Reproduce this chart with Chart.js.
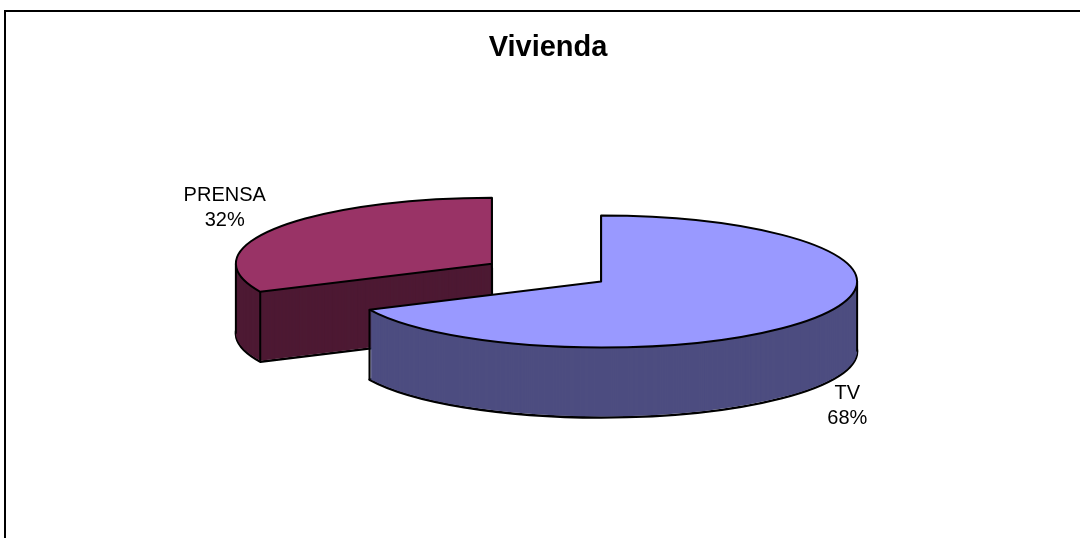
<!DOCTYPE html>
<html>
<head>
<meta charset="utf-8">
<title>Vivienda</title>
<script src="https://cdn.jsdelivr.net/npm/chart.js@4"></script>
<style>
    html, body { margin: 0; padding: 0; background: #fff; }
    #wrap { width: 1080px; height: 538px; }
</style>
</head>
<body>
<div id="wrap"><canvas id="myChart"></canvas></div>
<script>
var categories = ["TV", "PRENSA"];
var seriesValues = [68, 32];
var topColors = ["#9999FF", "#993366"];
var sideColors = ["#4D4D80", "#4D1933"];

// 3d look of the old pie: flattening, wall height, how far slices are pulled apart
var tilt = 66 / 256;
var depth = 70;
var explode = 64.7;
var shiftX = -1.5;
var lineColor = "#000";
var labelFont = "20px 'Liberation Sans'";
var labelLine = 25;
// where each label sits, measured from the rim of its slice
var labelNudge = [[30, 82], [-51, -27]];

function slicePose(arc) {
    var mid = (arc.startAngle + arc.endAngle) / 2;
    return {
        x: arc.x + shiftX + Math.cos(mid) * explode,
        y: arc.y + Math.sin(mid) * explode * tilt,
        rx: arc.outerRadius,
        ry: arc.outerRadius * tilt,
        mid: mid
    };
}

function fillSlice(ctx, arc, pose, color, dy) {
    var flat = Object.create(arc);
    flat.options = Object.assign({}, arc.options, { backgroundColor: color, borderWidth: 0 });
    ctx.save();
    ctx.translate(pose.x, pose.y + dy);
    ctx.scale(1, tilt);
    ctx.translate(-arc.x, -arc.y);
    flat.draw(ctx);
    ctx.restore();
}

function outlineSlice(ctx, arc, pose, dy) {
    ctx.beginPath();
    ctx.moveTo(pose.x, pose.y + dy);
    ctx.ellipse(pose.x, pose.y + dy, pose.rx, pose.ry, 0, arc.startAngle, arc.endAngle);
    ctx.closePath();
    ctx.stroke();
}

function wallLine(ctx, pose, angle) {
    var x = pose.x + Math.cos(angle) * pose.rx;
    var y = pose.y + Math.sin(angle) * pose.ry;
    ctx.beginPath();
    ctx.moveTo(x, y);
    ctx.lineTo(x, y + depth);
    ctx.stroke();
}

function inSlice(arc, angle) {
    var tau = Math.PI * 2;
    var a = angle;
    while (a < arc.startAngle) a += tau;
    return a <= arc.endAngle;
}

var framePlugin = {
    id: "frame",
    beforeDraw: function (chart) {
        var ctx = chart.ctx;
        ctx.save();
        ctx.strokeStyle = lineColor;
        ctx.lineWidth = 2;
        ctx.strokeRect(5, 11, chart.width + 20, chart.height + 20);
        ctx.restore();
    }
};

var pie3dPlugin = {
    id: "pie3d",
    beforeDatasetDraw: function (chart, args) {
        var ctx = chart.ctx;
        var arcs = args.meta.data;
        var sum = seriesValues.reduce(function (a, b) { return a + b; }, 0);

        ctx.save();
        ctx.strokeStyle = lineColor;
        ctx.lineJoin = "round";
        // back slice first so the big one lands on top of it
        for (var i = arcs.length - 1; i >= 0; i--) {
            var arc = arcs[i];
            var pose = slicePose(arc);

            ctx.lineWidth = 2.4;
            outlineSlice(ctx, arc, pose, depth);
            for (var d = depth - 1; d > 0; d--) {
                fillSlice(ctx, arc, pose, sideColors[i], d);
            }

            ctx.lineWidth = 2;
            wallLine(ctx, pose, arc.startAngle);
            wallLine(ctx, pose, arc.endAngle);
            if (inSlice(arc, 0)) wallLine(ctx, pose, 0);
            if (inSlice(arc, Math.PI)) wallLine(ctx, pose, Math.PI);
            if (arc.circumference < Math.PI) {
                ctx.beginPath();
                ctx.moveTo(pose.x, pose.y);
                ctx.lineTo(pose.x, pose.y + depth);
                ctx.stroke();
            }

            fillSlice(ctx, arc, pose, topColors[i], 0);
            outlineSlice(ctx, arc, pose, 0);
        }

        ctx.fillStyle = "#000";
        ctx.font = labelFont;
        ctx.textAlign = "center";
        ctx.textBaseline = "alphabetic";
        arcs.forEach(function (arc, i) {
            var pose = slicePose(arc);
            var x = pose.x + Math.cos(pose.mid) * pose.rx + labelNudge[i][0];
            var y = pose.y + Math.sin(pose.mid) * pose.ry + labelNudge[i][1];
            ctx.fillText(categories[i], x, y);
            ctx.fillText(Math.round(seriesValues[i] / sum * 100) + "%", x, y + labelLine);
        });
        ctx.restore();
        return false;
    }
};

new Chart("myChart", {
    type: "pie",
    data: {
        labels: categories,
        datasets: [{
            data: seriesValues,
            backgroundColor: topColors,
            borderWidth: 0
        }]
    },
    plugins: [framePlugin, pie3dPlugin],
    options: {
        responsive: true,
        maintainAspectRatio: false,
        animation: false,
        events: [],
        radius: 256,
        layout: { padding: { left: 16, bottom: 58.6 } },
        plugins: {
            legend: { display: false },
            tooltip: { enabled: false },
            title: {
                display: true,
                text: "Vivienda",
                color: "#000",
                font: { family: "'Liberation Sans'", size: 29, weight: "bold" },
                padding: { top: 31, bottom: 0 }
            }
        }
    }
});
</script>
</body>
</html>
